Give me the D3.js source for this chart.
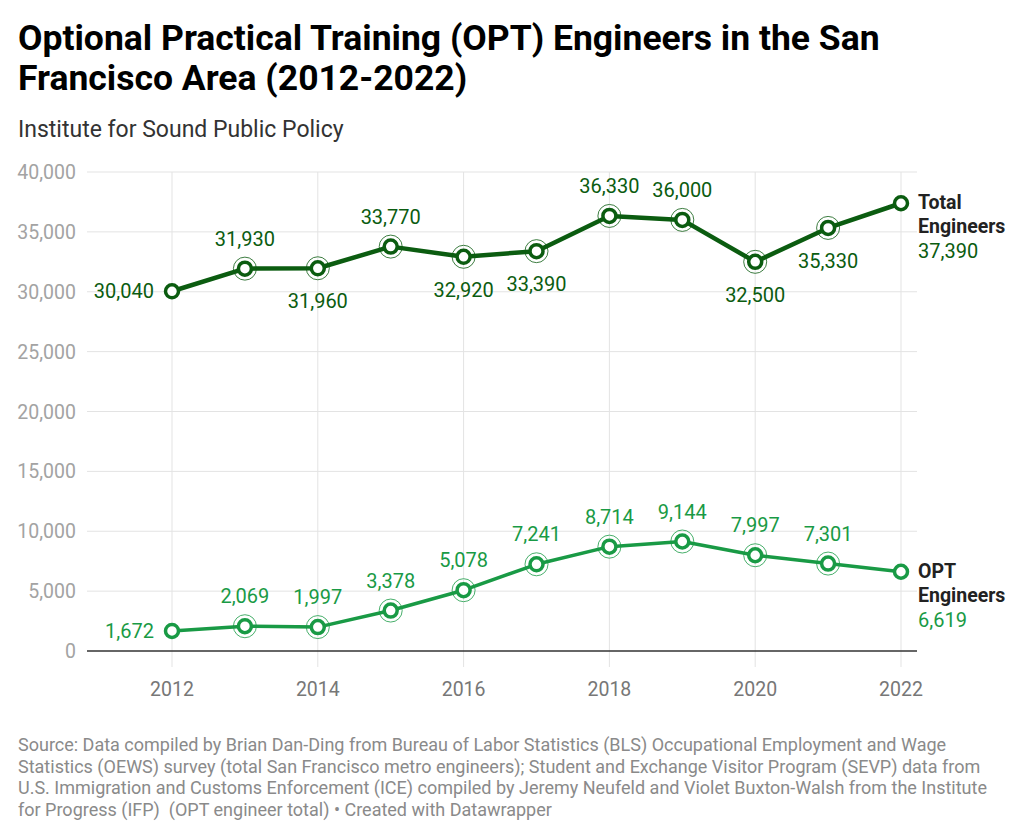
<!DOCTYPE html>
<html>
<head>
<meta charset="utf-8">
<script src="https://cdn.jsdelivr.net/npm/d3@7"></script>
<style>
  body { margin: 0; background: #fff; font-family: Roboto, sans-serif; }
</style>
</head>
<body>
<script>
// data
const years = [2012, 2013, 2014, 2015, 2016, 2017, 2018, 2019, 2020, 2021, 2022];
const totalEngineers = [30040, 31930, 31960, 33770, 32920, 33390, 36330, 36000, 32500, 35330, 37390];
const optEngineers = [1672, 2069, 1997, 3378, 5078, 7241, 8714, 9144, 7997, 7301, 6619];
const totalLabelPos = ["left", "above", "below", "above", "below", "below", "above", "above", "below", "below", "end"];
const optLabelPos = ["left", "above", "above", "above", "above", "above", "above", "above", "above", "above", "end"];
const yTicks = [0, 5000, 10000, 15000, 20000, 25000, 30000, 35000, 40000];
const xTicks = [2012, 2014, 2016, 2018, 2020, 2022];

const W = 1024, H = 836;
const svg = d3.select("body").append("svg").attr("width", W).attr("height", H);

// titolo
const title = svg.append("text").attr("x", 18).attr("font-size", 35.5).attr("font-weight", 700).attr("fill", "#000");
title.append("tspan").attr("x", 18).attr("y", 50).text("Optional Practical Training (OPT) Engineers in the San");
title.append("tspan").attr("x", 18).attr("y", 90).text("Francisco Area (2012-2022)");

svg.append("text").attr("x", 18).attr("y", 137).attr("font-size", 23).attr("fill", "#333")
  .text("Institute for Sound Public Policy");

const x = d3.scaleLinear().domain([2012, 2022]).range([172, 901]);
const y = d3.scaleLinear().domain([0, 40000]).range([651, 172]);
const fmt = d3.format(",");

// griglia
svg.append("g").selectAll("line").data(yTicks.filter(d => d > 0)).join("line")
  .attr("x1", 87).attr("x2", 917).attr("y1", d => y(d)).attr("y2", d => y(d))
  .attr("stroke", "#e3e3e3").attr("stroke-width", 1);
svg.append("g").selectAll("line").data(xTicks).join("line")
  .attr("x1", d => x(d)).attr("x2", d => x(d)).attr("y1", y(40000)).attr("y2", 667)
  .attr("stroke", "#e3e3e3").attr("stroke-width", 1);

svg.append("g").selectAll("text").data(yTicks).join("text")
  .attr("x", 76).attr("y", d => y(d) + 7).attr("text-anchor", "end")
  .attr("font-size", 19.5).attr("fill", "#a3a3a3").text(d => fmt(d));

svg.append("g").selectAll("text").data(xTicks).join("text")
  .attr("x", d => x(d)).attr("y", 696).attr("text-anchor", "middle")
  .attr("font-size", 19.5).attr("fill", "#777").text(d => d);

svg.append("line").attr("x1", 87).attr("x2", 917).attr("y1", y(0)).attr("y2", y(0))
  .attr("stroke", "#333").attr("stroke-width", 1.5);

function drawSeries(values, positions, color, width, nameLines) {
  const pts = years.map((yr, i) => ({ yr, v: values[i], pos: positions[i] }));
  const g = svg.append("g");
  g.append("path").datum(pts)
    .attr("d", d3.line().x(d => x(d.yr)).y(d => y(d.v)))
    .attr("fill", "none").attr("stroke", color).attr("stroke-width", width)
    .attr("stroke-linejoin", "round");

  g.selectAll(".halo").data(pts.filter(d => d.pos === "above" || d.pos === "below")).join("circle")
    .attr("cx", d => x(d.yr)).attr("cy", d => y(d.v)).attr("r", 11.5)
    .attr("fill", "none").attr("stroke", color).attr("stroke-width", 0.8);

  g.selectAll(".dot").data(pts).join("circle")
    .attr("cx", d => x(d.yr)).attr("cy", d => y(d.v)).attr("r", 6.5)
    .attr("fill", "#fff").attr("stroke", color).attr("stroke-width", 3.5);

  g.selectAll(".lbl").data(pts.filter(d => d.pos !== "end")).join("text")
    .attr("x", d => d.pos === "left" ? x(d.yr) - 18 : x(d.yr))
    .attr("y", d => d.pos === "above" ? y(d.v) - 23 : d.pos === "below" ? y(d.v) + 40 : y(d.v) + 7)
    .attr("text-anchor", d => d.pos === "left" ? "end" : "middle")
    .attr("font-size", 20).attr("fill", color)
    .text(d => fmt(d.v));

  const last = pts[pts.length - 1];
  const ly = y(last.v);
  const t = g.append("text").attr("font-size", 19.5).attr("font-weight", 700).attr("fill", "#222");
  t.append("tspan").attr("x", 918).attr("y", ly + 6).text(nameLines[0]);
  t.append("tspan").attr("x", 918).attr("y", ly + 30).text(nameLines[1]);
  g.append("text").attr("x", 918).attr("y", ly + 55).attr("font-size", 20).attr("fill", color)
    .text(fmt(last.v));
}

drawSeries(totalEngineers, totalLabelPos, "#0b5c10", 4.5, ["Total", "Engineers"]);
drawSeries(optEngineers, optLabelPos, "#199a45", 3.5, ["OPT", "Engineers"]);

// fonte
const source = [
  "Source: Data compiled by Brian Dan-Ding from Bureau of Labor Statistics (BLS) Occupational Employment and Wage",
  "Statistics (OEWS) survey (total San Francisco metro engineers); Student and Exchange Visitor Program (SEVP) data from",
  "U.S. Immigration and Customs Enforcement (ICE) compiled by Jeremy Neufeld and Violet Buxton-Walsh from the Institute",
  "for Progress (IFP)  (OPT engineer total) \u2022 Created with Datawrapper"
];
svg.append("g").selectAll("text").data(source).join("text")
  .attr("x", 18).attr("y", (d, i) => 751 + i * 21.5)
  .attr("font-size", 18).attr("fill", "#8a8a8a")
  .style("white-space", "pre")
  .text(d => d);
</script>
</body>
</html>
